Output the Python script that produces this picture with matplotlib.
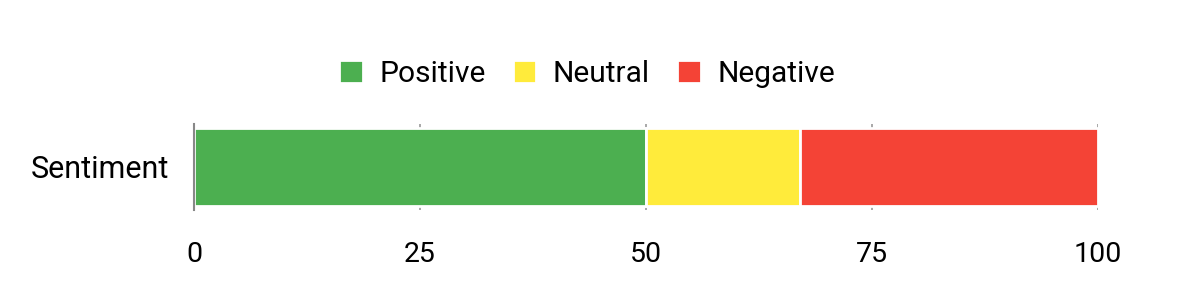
import matplotlib.pyplot as plt

plt.rcParams['font.family'] = ['Roboto', 'DejaVu Sans']

category = "Sentiment"
labels = ["Positive", "Neutral", "Negative"]
values = [50, 17, 33]
colors = ["#4CAF50", "#FFEB3B", "#F44336"]
ticks = [0, 25, 50, 75, 100]

fig = plt.figure(figsize=(12, 3), dpi=100)
ax = fig.add_axes([194 / 1200, 1 - 210 / 300, (1098 - 194) / 1200, 86 / 300])

left = 0
handles = []
for label, value, color in zip(labels, values, colors):
    bars = ax.barh([category], [value], left=left, height=0.9, color=color,
                   edgecolor="white", linewidth=2, label=label, zorder=2)
    handles.append(bars)
    left += value

ax.set_xlim(0, 100)
ax.set_ylim(-0.5, 0.5)
ax.set_xticks(ticks)
ax.set_xticklabels([str(t) for t in ticks])
ax.grid(axis="x", color="#999999", linewidth=1.2, zorder=0)
ax.tick_params(axis="x", length=0, labelsize=20.5, pad=22)
ax.tick_params(axis="y", length=0, labelsize=22, pad=18)

for side in ["top", "right", "bottom"]:
    ax.spines[side].set_visible(False)
ax.spines["left"].set_color("#888888")
ax.spines["left"].set_linewidth(1.5)
ax.spines["left"].set_zorder(3)

fig.legend(handles=handles, labels=labels, loc="center",
           bbox_to_anchor=(587 / 1200, 1 - 74 / 300), ncol=3, frameon=False,
           fontsize=21.5, handlelength=0.8, handleheight=0.8, handletextpad=0.55,
           columnspacing=0.9)

fig.savefig("out.png", dpi=100)
